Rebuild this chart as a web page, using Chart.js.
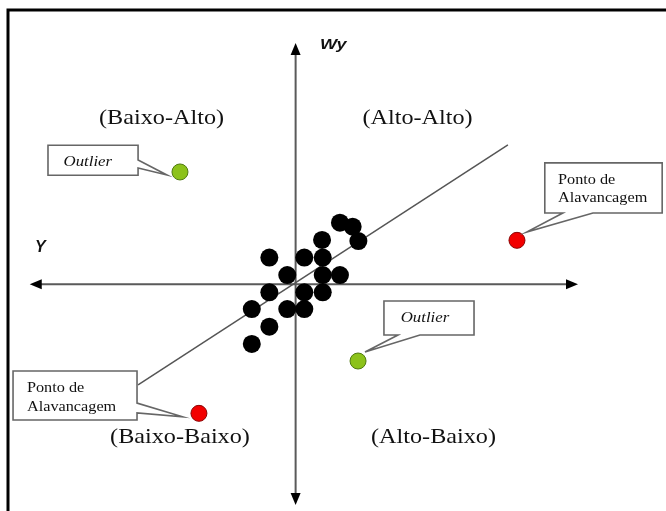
<!DOCTYPE html>
<html>
<head>
<meta charset="utf-8">
<script src="https://cdn.jsdelivr.net/npm/chart.js@4.4.1/dist/chart.umd.min.js"></script>
<style>
    html, body { margin: 0; padding: 0; background: #fff; }
    #wrap { width: 666px; height: 511px; position: relative; }
</style>
</head>
<body>
<div id="wrap"><canvas id="myChart"></canvas></div>
<script>
/* ========== Dados =============== */

// nuvem de pontos (Y no eixo horizontal, Wy no vertical)
const pontosY  = [2.55, 3.28, 3.61, 1.52, -1.51, 0.50, 1.56, -0.48, 1.56, 2.55, -1.51, 0.50, 1.56, -2.52, -0.48, 0.50, -1.51, -2.52];
const pontosWy = [3.53, 3.30, 2.48, 2.54, 1.53, 1.53, 1.53, 0.53, 0.53, 0.53, -0.46, -0.46, -0.46, -1.42, -1.42, -1.42, -2.43, -3.42];

const outlierY  = [-6.65, 3.59];
const outlierWy = [6.44, -4.40];

const alavancaY  = [12.73, -5.56];
const alavancaWy = [2.52, -7.40];

// reta de regressão
const retaY  = [-9.06, 12.21];
const retaWy = [-5.77, 7.99];

const quadrantes = ['(Baixo-Alto)', '(Alto-Alto)', '(Baixo-Baixo)', '(Alto-Baixo)'];
const rotulosEixo = ['Y', 'Wy'];

/* ========== Layout (unidades do gráfico) =============== */

const posQuadrantes = [[-7.71, 9.54], [7.01, 9.54], [-6.65, -8.76], [7.93, -8.76]];
const eixoX = [-15.29, 16.24];
const eixoYv = [-12.66, 13.83];

const baloes = [
    { caixa: [-14.24, 7.97, -9.06, 6.25], lado: 'right', base: [7.13, 6.67], ponta: [-7.40, 6.27],
      linhas: ['Outlier'], italico: true, centro: [-11.95, 6.98] },
    { caixa: [14.33, 6.96, 21.08, 4.09], lado: 'bottom', base: [15.37, 17.10], ponta: [13.29, 3.00],
      linhas: ['Ponto de', 'Alavancagem'], esq: 15.09, ys: [5.98, 4.95] },
    { caixa: [5.08, -0.96, 10.26, -2.91], lado: 'bottom', base: [5.89, 7.15], ponta: [3.99, -3.88],
      linhas: ['Outlier'], italico: true, centro: [7.44, -1.93] },
    { caixa: [-16.25, -4.97, -9.12, -7.78], lado: 'right', base: [-6.81, -7.38], ponta: [-6.50, -7.60],
      linhas: ['Ponto de', 'Alavancagem'], esq: -15.45, ys: [-5.95, -7.04] }
];

function pares(xs, ys) {
    return xs.map((v, i) => ({ x: v, y: ys[i] }));
}

function texto(ctx, s, x, y, font, align, sx) {
    ctx.save();
    ctx.font = font;
    ctx.fillStyle = '#111';
    ctx.textAlign = align;
    ctx.textBaseline = 'middle';
    ctx.translate(x, y);
    ctx.scale(sx, 1);
    ctx.fillText(s, 0, 0);
    ctx.restore();
}

function seta(ctx, x, y, dir) {
    // dir: vetor unitário da ponta
    const L = 12, W = 5;
    ctx.beginPath();
    ctx.moveTo(x, y);
    ctx.lineTo(x - dir[0] * L - dir[1] * W, y - dir[1] * L + dir[0] * W);
    ctx.lineTo(x - dir[0] * L + dir[1] * W, y - dir[1] * L - dir[0] * W);
    ctx.closePath();
    ctx.fillStyle = '#000';
    ctx.fill();
}

const decoracao = {
    id: 'decoracao',
    beforeDatasetsDraw(chart) {
        const ctx = chart.ctx;
        const sx = chart.scales.x, sy = chart.scales.y;
        const X = v => sx.getPixelForValue(v);
        const Y = v => sy.getPixelForValue(v);

        // moldura
        ctx.save();
        ctx.strokeStyle = '#000';
        ctx.lineWidth = 3;
        ctx.beginPath();
        ctx.moveTo(8, 520);
        ctx.lineTo(8, 10);
        ctx.lineTo(680, 10);
        ctx.stroke();

        // eixos
        ctx.strokeStyle = '#5a5a5a';
        ctx.lineWidth = 2;
        ctx.beginPath();
        ctx.moveTo(X(eixoX[0]) + 8, Y(0));
        ctx.lineTo(X(eixoX[1]) - 8, Y(0));
        ctx.moveTo(X(0), Y(eixoYv[1]) + 8);
        ctx.lineTo(X(0), Y(eixoYv[0]) - 8);
        ctx.stroke();
        seta(ctx, X(eixoX[0]), Y(0), [-1, 0]);
        seta(ctx, X(eixoX[1]), Y(0), [1, 0]);
        seta(ctx, X(0), Y(eixoYv[1]), [0, -1]);
        seta(ctx, X(0), Y(eixoYv[0]), [0, 1]);
        ctx.restore();

        // rótulos
        quadrantes.forEach((q, i) => {
            texto(ctx, q, X(posQuadrantes[i][0]), Y(posQuadrantes[i][1]), "22px 'Liberation Serif'", 'center', 1.1);
        });
        texto(ctx, rotulosEixo[1], X(1.40), Y(13.72), "bold italic 15px 'Liberation Sans'", 'left', 1.2);
        texto(ctx, rotulosEixo[0], X(-14.99), Y(2.13), "bold italic 16px 'Liberation Sans'", 'left', 1.0);
    },
    afterDatasetsDraw(chart) {
        const ctx = chart.ctx;
        const sx = chart.scales.x, sy = chart.scales.y;
        const X = v => sx.getPixelForValue(v);
        const Y = v => sy.getPixelForValue(v);

        baloes.forEach(b => {
            const x0 = X(b.caixa[0]), y0 = Y(b.caixa[1]), x1 = X(b.caixa[2]), y1 = Y(b.caixa[3]);
            const px = X(b.ponta[0]), py = Y(b.ponta[1]);
            ctx.save();
            ctx.beginPath();
            ctx.moveTo(x0, y0);
            ctx.lineTo(x1, y0);
            if (b.lado == 'right') {
                ctx.lineTo(x1, Y(b.base[0]));
                ctx.lineTo(px, py);
                ctx.lineTo(x1, Y(b.base[1]));
                ctx.lineTo(x1, y1);
                ctx.lineTo(x0, y1);
            } else {
                ctx.lineTo(x1, y1);
                ctx.lineTo(X(b.base[1]), y1);
                ctx.lineTo(px, py);
                ctx.lineTo(X(b.base[0]), y1);
                ctx.lineTo(x0, y1);
            }
            ctx.closePath();
            ctx.fillStyle = '#fff';
            ctx.fill();
            ctx.strokeStyle = '#666';
            ctx.lineWidth = 1.6;
            ctx.lineJoin = 'miter';
            ctx.stroke();
            ctx.restore();

            if (b.italico) {
                texto(ctx, b.linhas[0], X(b.centro[0]), Y(b.centro[1]), "italic 15px 'Liberation Serif'", 'center', 1.12);
            } else {
                b.linhas.forEach((l, i) => {
                    texto(ctx, l, X(b.esq), Y(b.ys[i]), "14.5px 'Liberation Serif'", 'left', 1.12);
                });
            }
        });
    }
};

const ctx = document.getElementById('myChart');

new Chart(ctx, {
    type: 'scatter',
    data: {
        datasets: [{
            label: 'Y x Wy',
            data: pares(pontosY, pontosWy),
            backgroundColor: '#000',
            borderWidth: 0,
            pointRadius: 9,
            pointHoverRadius: 9,
            order: 1
        }, {
            label: 'Outlier',
            data: pares(outlierY, outlierWy),
            backgroundColor: '#8cc21a',
            borderColor: '#4f7a10',
            borderWidth: 1,
            pointRadius: 8,
            pointHoverRadius: 8,
            order: 1
        }, {
            label: 'Ponto de Alavancagem',
            data: pares(alavancaY, alavancaWy),
            backgroundColor: '#f20000',
            borderColor: '#8a0000',
            borderWidth: 1,
            pointRadius: 8,
            pointHoverRadius: 8,
            order: 1
        }, {
            type: 'line',
            label: 'reta',
            data: pares(retaY, retaWy),
            borderColor: '#555',
            borderWidth: 1.5,
            pointRadius: 0,
            fill: false,
            tension: 0,
            order: 5
        }]
    },
    options: {
        responsive: true,
        maintainAspectRatio: false,
        animation: false,
        layout: { padding: 0, autoPadding: false },
        plugins: {
            legend: { display: false },
            tooltip: { enabled: false }
        },
        scales: {
            x: { type: 'linear', min: -17, max: 21.3, display: false },
            y: { type: 'linear', min: -13, max: 16.3, display: false }
        }
    },
    plugins: [decoracao]
});
</script>
</body>
</html>
